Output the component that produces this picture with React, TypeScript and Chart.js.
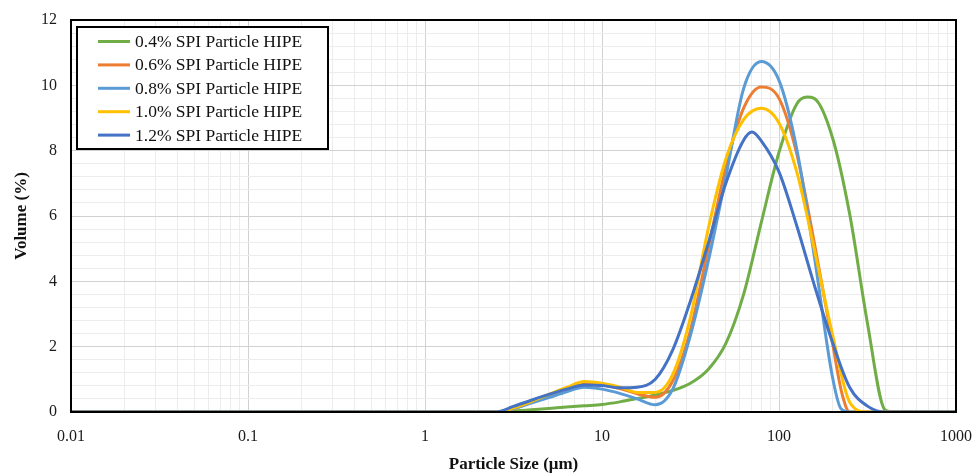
import React, { useEffect, useRef } from 'react';
import { Chart, registerables } from 'chart.js';

Chart.register(...registerables);

// ---- Data ----
const SERIES_LABELS = [
  '0.4% SPI Particle HIPE',
  '0.6% SPI Particle HIPE',
  '0.8% SPI Particle HIPE',
  '1.0% SPI Particle HIPE',
  '1.2% SPI Particle HIPE',
];
const SERIES_COLORS = ['#70AD47', '#ED7D31', '#5B9BD5', '#FFC000', '#4472C4'];

const SIZE_04 = [0.01, 2.51, 3.16, 3.98, 5.01, 6.31, 7.94, 10, 12.6, 15.8, 20, 25.1, 31.6, 39.8, 50.1, 63.1, 79.4, 100, 126, 144, 158, 200, 251, 316, 398, 450, 1000];
const VOL_04 = [0, 0, 0.03, 0.07, 0.11, 0.15, 0.19, 0.23, 0.31, 0.41, 0.52, 0.66, 0.88, 1.3, 2.1, 3.6, 5.8, 7.95, 9.43, 9.64, 9.6, 8.42, 6.05, 2.72, 0.06, 0, 0];

const SIZE_06 = [0.01, 2.51, 3.16, 3.98, 5.01, 6.31, 7.94, 10, 12.6, 15.8, 20, 25.1, 31.6, 39.8, 50.1, 63.1, 79.4, 100, 126, 158, 200, 226, 251, 1000];
const VOL_06 = [0, 0, 0.1, 0.3, 0.49, 0.68, 0.85, 0.83, 0.72, 0.56, 0.45, 0.95, 2.5, 5.0, 7.5, 9.3, 9.95, 9.6, 7.9, 5.2, 2.15, 0.6, 0, 0];

const SIZE_08 = [0.01, 2.51, 3.16, 3.98, 5.01, 6.31, 7.94, 10, 12.6, 15.8, 20, 25.1, 31.6, 39.8, 50.1, 63.1, 79.4, 100, 126, 158, 200, 224, 251, 1000];
const VOL_08 = [0, 0, 0.1, 0.27, 0.44, 0.62, 0.76, 0.7, 0.57, 0.4, 0.22, 0.7, 2.35, 4.6, 7.2, 9.9, 10.73, 10.15, 8.05, 4.8, 1.1, 0.1, 0, 0];

const SIZE_10 = [0.01, 2.51, 3.16, 3.98, 5.01, 6.31, 7.94, 10, 12.6, 15.8, 20, 25.1, 31.6, 39.8, 50.1, 63.1, 79.4, 100, 126, 158, 200, 251, 316, 1000];
const VOL_10 = [0, 0, 0.12, 0.32, 0.54, 0.75, 0.93, 0.88, 0.76, 0.6, 0.6, 1.15, 2.9, 5.6, 7.75, 8.95, 9.3, 8.85, 7.35, 5.0, 2.4, 0.3, 0, 0];

const SIZE_12 = [0.01, 2.51, 3.16, 3.98, 5.01, 6.31, 7.94, 10, 12.6, 15.8, 20, 25.1, 31.6, 39.8, 50.1, 63.1, 70.4, 79.4, 100, 126, 158, 200, 251, 316, 398, 1000];
const VOL_12 = [0, 0, 0.17, 0.36, 0.54, 0.7, 0.83, 0.81, 0.74, 0.76, 1.0, 1.9, 3.4, 5.15, 7.0, 8.32, 8.57, 8.3, 7.35, 5.7, 3.9, 2.15, 0.75, 0.18, 0, 0];

const SERIES_SIZES = [SIZE_04, SIZE_06, SIZE_08, SIZE_10, SIZE_12];
const SERIES_VOLS = [VOL_04, VOL_06, VOL_08, VOL_10, VOL_12];

const X_DECADES = [0.01, 0.1, 1, 10, 100, 1000];
const Y_MAJOR_TICKS = [0, 2, 4, 6, 8, 10, 12];
const Y_MINOR_PER_MAJOR = 5;

const SERIF = '"Liberation Serif", "Times New Roman", Times, serif';

export default function App() {
  const ref = useRef<HTMLCanvasElement>(null);

  useEffect(() => {
    document.body.style.margin = '0';
    const canvas = ref.current;
    if (!canvas) return;

    const datasets = SERIES_LABELS.map((label, i) => ({
      label,
      data: SERIES_SIZES[i].map((x, j) => ({ x, y: SERIES_VOLS[i][j] })),
      borderColor: SERIES_COLORS[i],
      backgroundColor: SERIES_COLORS[i],
      borderWidth: 3,
      pointRadius: 0,
      pointHoverRadius: 0,
      fill: false,
      cubicInterpolationMode: 'monotone' as const,
      order: SERIES_LABELS.length - i,
    }));

    const xTickValues: number[] = [];
    for (let d = 0; d < X_DECADES.length - 1; d++) {
      for (let m = 1; m <= 9; m++) xTickValues.push(Number((X_DECADES[d] * m).toPrecision(6)));
    }
    xTickValues.push(X_DECADES[X_DECADES.length - 1]);

    const yTickValues: number[] = [];
    for (let k = 0; k < Y_MAJOR_TICKS.length - 1; k++) {
      const a = Y_MAJOR_TICKS[k];
      const b = Y_MAJOR_TICKS[k + 1];
      for (let s = 0; s < Y_MINOR_PER_MAJOR; s++) {
        yTickValues.push(Number((a + ((b - a) * s) / Y_MINOR_PER_MAJOR).toFixed(4)));
      }
    }
    yTickValues.push(Y_MAJOR_TICKS[Y_MAJOR_TICKS.length - 1]);

    const isDecade = (v: number) => X_DECADES.some((d) => Math.abs(d - v) / d < 1e-6);
    const isYMajor = (v: number) => Y_MAJOR_TICKS.some((d) => Math.abs(d - v) < 1e-6);

    const frameLegend = {
      id: 'frameLegend',
      afterDatasetsDraw(chart: any) {
        const { ctx, chartArea: a } = chart;
        ctx.save();
        ctx.strokeStyle = '#000';
        ctx.lineWidth = 2;
        ctx.strokeRect(a.left, a.top, a.right - a.left, a.bottom - a.top);

        const bx = a.left + 6;
        const by = a.top + 7;
        const bw = 251;
        const bh = 122;
        ctx.fillStyle = '#fff';
        ctx.fillRect(bx, by, bw, bh);
        ctx.strokeStyle = '#000';
        ctx.lineWidth = 2;
        ctx.strokeRect(bx, by, bw, bh);
        ctx.font = `17.5px ${SERIF}`;
        ctx.textBaseline = 'middle';
        ctx.textAlign = 'left';
        SERIES_LABELS.forEach((lab, i) => {
          const y = by + 14.5 + i * 23.4;
          ctx.strokeStyle = SERIES_COLORS[i];
          ctx.lineWidth = 3;
          ctx.beginPath();
          ctx.moveTo(bx + 21, y);
          ctx.lineTo(bx + 53, y);
          ctx.stroke();
          ctx.fillStyle = '#111';
          ctx.fillText(lab, bx + 58, y + 1);
        });
        ctx.restore();
      },
    };

    const chart = new Chart(canvas, {
      type: 'line',
      data: { datasets },
      options: {
        responsive: false,
        animation: false,
        devicePixelRatio: 1,
        events: [],
        layout: { padding: { top: 20, right: 18, left: 0, bottom: 0 } },
        plugins: {
          legend: { display: false },
          tooltip: { enabled: false },
          title: { display: false },
        },
        scales: {
          x: {
            type: 'logarithmic',
            min: 0.01,
            max: 1000,
            afterBuildTicks: (scale: any) => {
              scale.ticks = xTickValues.map((v) => ({ value: v, major: isDecade(v) }));
            },
            afterFit: (scale: any) => {
              scale.height = 61;
              scale.paddingLeft = 0;
              scale.paddingRight = 0;
            },
            grid: {
              drawTicks: false,
              color: (c: any) => (c.tick && isDecade(c.tick.value) ? '#d2d2d2' : '#ececec'),
              lineWidth: 1,
            },
            border: { display: false },
            ticks: {
              autoSkip: false,
              maxRotation: 0,
              padding: 15,
              color: '#1a1a1a',
              font: { family: SERIF, size: 16 },
              callback: (value: any) => {
                const v = Number(value);
                return isDecade(v) ? String(Number(v.toPrecision(6))) : '';
              },
            },
            title: {
              display: true,
              text: 'Particle Size (μm)',
              color: '#111',
              font: { family: SERIF, size: 17, weight: 'bold', lineHeight: 1 },
              padding: { top: 0, bottom: 0 },
            },
          },
          y: {
            type: 'linear',
            min: 0,
            max: 12,
            afterBuildTicks: (scale: any) => {
              scale.ticks = yTickValues.map((v) => ({ value: v }));
            },
            afterFit: (scale: any) => {
              scale.width = 71;
              scale.paddingTop = 0;
              scale.paddingBottom = 0;
            },
            grid: {
              drawTicks: false,
              color: (c: any) => (c.tick && isYMajor(c.tick.value) ? '#d2d2d2' : '#ececec'),
              lineWidth: 1,
            },
            border: { display: false },
            ticks: {
              autoSkip: false,
              padding: 14,
              color: '#1a1a1a',
              font: { family: SERIF, size: 16 },
              callback: (value: any) => {
                const v = Number(value);
                return isYMajor(v) ? String(Math.round(v)) : '';
              },
            },
            title: {
              display: true,
              text: 'Volume (%)',
              color: '#111',
              font: { family: SERIF, size: 17, weight: 'bold', lineHeight: 1 },
              padding: { top: 13, bottom: 0 },
            },
          },
        },
      },
      plugins: [frameLegend],
    } as any);

    return () => {
      chart.destroy();
    };
  }, []);

  return (
    <div style={{ width: 974, height: 473, background: '#fff' }}>
      <canvas ref={ref} width={974} height={473} style={{ width: 974, height: 473, display: 'block' }} />
    </div>
  );
}
